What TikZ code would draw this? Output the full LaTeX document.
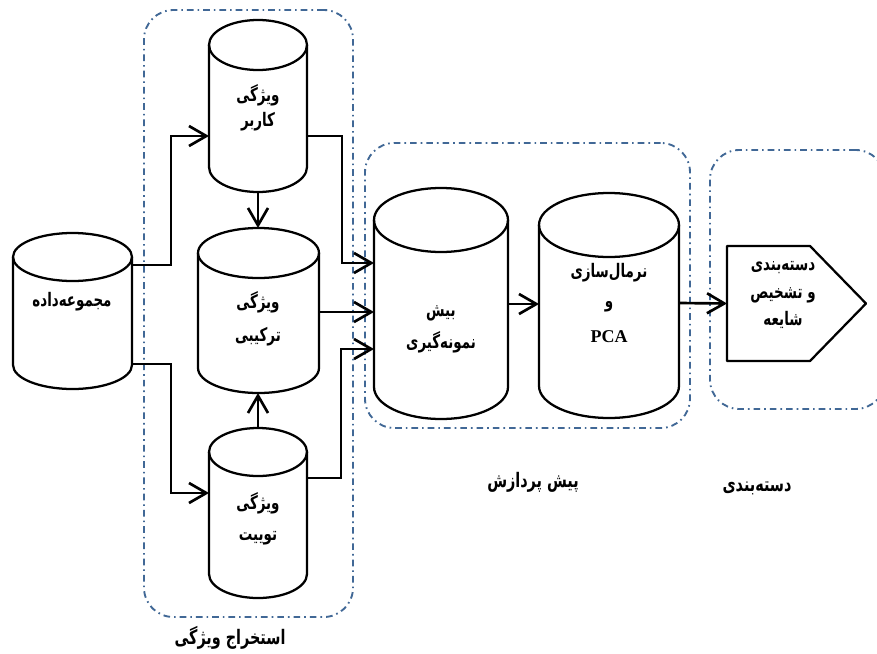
\documentclass[tikz,border=0pt]{standalone}
\usepackage{fontspec}
\usetikzlibrary{arrows.meta,calc}
\TeXXeTstate=1
\newfontfamily\arabicfont[Script=Arabic,FakeStretch=0.72]{DejaVu Sans}
\newfontfamily\latinserif{Liberation Serif}
\definecolor{boxblue}{RGB}{65,104,150}
\newcommand\RL[1]{\beginR #1\endR}
% name, cx, top, bottom, rx, ry
\newcommand\cyl[6]{%
  \node[cylbox, minimum width={2*#5*0.75pt}, minimum height={(#4-#3)*0.75pt}] (#1) at (#2,{(#3+#4)/2}) {};
  \draw[cylline] (#2,#3+#6) ellipse[x radius=#5, y radius=#6];
  \draw[cylline] (#2-#5,#3+#6) -- (#2-#5,#4-#6) arc[start angle=180,end angle=0,x radius=#5,y radius=#6] -- (#2+#5,#3+#6);
}
\begin{document}
\begin{tikzpicture}[x=0.75pt,y=-0.75pt,
  cylbox/.style={rectangle, draw=none, inner sep=0pt, outer sep=0pt},
  cylline/.style={line width=1.7pt, line join=round},
  arr/.style={line width=2pt, -{Straight Barb[length=13pt,width=15pt,line width=2pt]}},
  group/.style={rectangle, draw=boxblue, line width=1.4pt, dash pattern=on 5pt off 3pt on 1.2pt off 3pt, rounded corners=22pt, inner sep=0pt, outer sep=0pt},
  sz/.style 2 args={minimum width={#1*0.75pt}, minimum height={#2*0.75pt}},
  fa/.style={font=\arabicfont\bfseries\fontsize{14}{16}\selectfont, inner sep=0pt},
  lab/.style={font=\arabicfont\bfseries\fontsize{15}{17}\selectfont, inner sep=0pt},
  pca/.style={font=\latinserif\bfseries\fontsize{13.5}{15}\selectfont, inner sep=0pt}
]
\useasboundingbox (0,0) rectangle (877,653);
\fill[white] (0,0) rectangle (877,653);

% groups
\node[group, sz={209}{607}] (g1) at (248.5,313.5) {};
\node[group, sz={325}{285}] (g2) at (527.5,285.5) {};
\node[group, sz={175}{259}] (g3) at (797.5,279.5) {};

% cylinders
\cyl{data}{72.5}{233}{389}{59.5}{24}
\cyl{user}{258}{20}{192}{49}{25}
\cyl{comb}{258.5}{228}{393}{60.5}{25}
\cyl{tweet}{258}{428}{598}{49}{24}
\cyl{over}{441}{188}{419}{67}{32}
\cyl{norm}{609}{193}{418}{70}{32}

% classifier pentagon
\node[cylbox, sz={139}{115}] (cls) at (796.5,303.5) {};
\draw[cylline] (cls.north west) -- ($(cls.north east)+(-56,0)$) -- (cls.east) -- ($(cls.south east)+(-56,0)$) -- (cls.south west) -- cycle;

% connectors
\draw[arr] (data.east |- 0,265) -- (171,265) |- (user.west |- 0,136);
\draw[arr] (data.east |- 0,364) -- (171,364) |- (tweet.west |- 0,493);
\draw[arr] (user.east |- 0,136) -- (342,136) |- (over.west |- 0,263);
\draw[arr] (comb.east |- 0,312) -- (over.west |- 0,312);
\draw[arr] (tweet.east |- 0,478) -- (341,478) |- (over.west |- 0,349);
\draw[arr] (user.south) -- (user.south |- comb.north);
\draw[arr] (tweet.north) -- (tweet.north |- comb.south);
\draw[arr] (over.east |- 0,304) -- (norm.west |- 0,304);
\draw[arr] (norm.east |- 0,303) -- (cls.west);

% texts
\node[fa] (t-data) at (72,302) {\RL{مجموعه‌داده}};
\node[fa] (t-user1) at (258,95) {\RL{ویژگی}};
\node[fa] (t-user2) at (258,122) {\RL{کاربر}};
\node[fa] (t-comb1) at (258,302) {\RL{ویژگی}};
\node[fa] (t-comb2) at (258,337) {\RL{ترکیبی}};
\node[fa] (t-tw1) at (258,503) {\RL{ویژگی}};
\node[fa] (t-tw2) at (258,538) {\RL{توییت}};
\node[fa] (t-over1) at (441,313) {\RL{بیش}};
\node[fa] (t-over2) at (441,342) {\RL{نمونه‌گیری}};
\node[fa] (t-norm1) at (609,273) {\RL{نرمال‌سازی}};
\node[fa] (t-norm2) at (609,307) {\RL{و}};
\node[pca] (t-norm3) at (609,337) {PCA};
\node[fa] (t-cls1) at (783,268) {\RL{دسته‌بندی}};
\node[fa] (t-cls2) at (783,295) {\RL{و تشخیص}};
\node[fa] (t-cls3) at (783,320) {\RL{شایعه}};

% group labels
\node[lab] (l-g1) at (230,638) {\RL{استخراج ویژگی}};
\node[lab] (l-g2) at (533,482) {\RL{پیش پردازش}};
\node[lab] (l-g3) at (757,488) {\RL{دسته‌بندی}};
\end{tikzpicture}
\end{document}
